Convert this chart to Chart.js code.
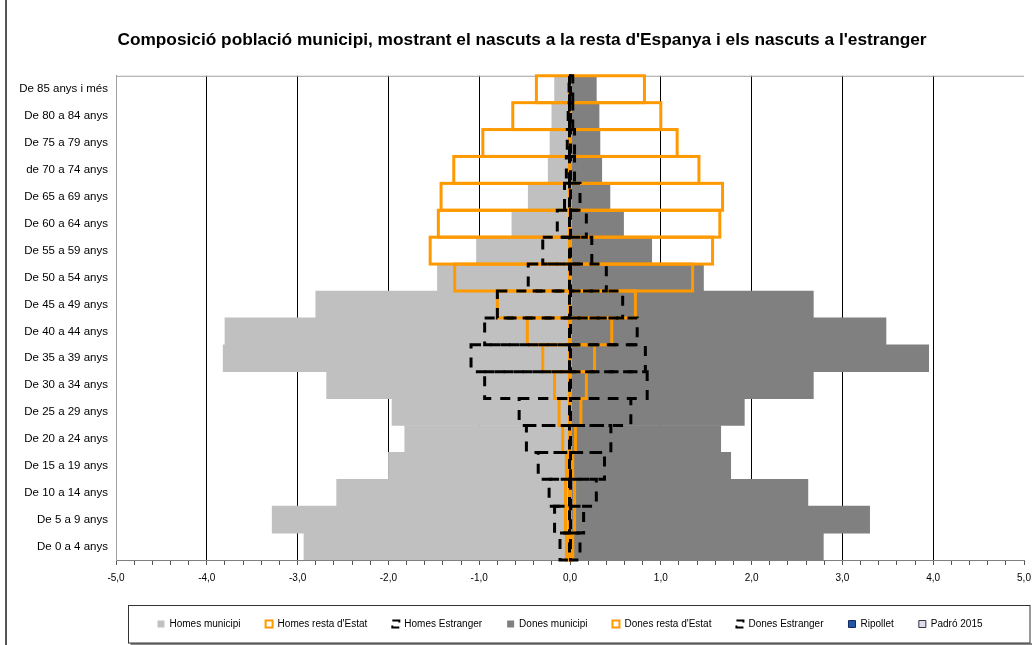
<!DOCTYPE html>
<html>
<head>
<meta charset="utf-8">
<script src="https://cdn.jsdelivr.net/npm/chart.js"></script>
<style>
  body { margin: 0; background: #fff; }
  #marc { position: absolute; left: 0; top: 0; width: 1032px; height: 645px; }
  #marc::before { content: ''; position: absolute; left: 5px; top: 0; bottom: 0; border-left: 2px solid #555; }
</style>
</head>
<body>
<div id="marc"><canvas id="grafic" width="1032" height="645"></canvas></div>
<script>
// franges d'edat, de dalt a baix com al gràfic
var edats = ['De 85 anys i més', 'De 80 a 84 anys', 'De 75 a 79 anys', 'de 70 a 74 anys',
  'De 65 a 69 anys', 'De 60 a 64 anys', 'De 55 a 59 anys', 'De 50 a 54 anys',
  'De 45 a 49 anys', 'De 40 a 44 anys', 'De 35 a 39 anys', 'De 30 a 34 anys',
  'De 25 a 29 anys', 'De 20 a 24 anys', 'De 15 a 19 anys', 'De 10 a 14 anys',
  'De 5 a 9 anys', 'De 0 a 4 anys'];

var homesMunicipi = [-0.17, -0.20, -0.22, -0.24, -0.46, -0.64, -1.03, -1.46, -2.80, -3.80, -3.82, -2.68, -1.96, -1.82, -2.00, -2.57, -3.28, -2.93];
var donesMunicipi = [0.29, 0.32, 0.33, 0.35, 0.44, 0.59, 0.90, 1.47, 2.68, 3.48, 3.95, 2.68, 1.92, 1.66, 1.77, 2.62, 3.30, 2.79];
var homesResta = [-0.37, -0.63, -0.96, -1.28, -1.42, -1.45, -1.54, -1.27, -0.80, -0.47, -0.30, -0.17, -0.12, -0.08, -0.04, -0.05, -0.05, -0.04];
var donesResta = [0.82, 1.00, 1.18, 1.42, 1.68, 1.65, 1.57, 1.35, 0.72, 0.46, 0.27, 0.18, 0.12, 0.06, 0.03, 0.05, 0.05, 0.03];
var homesEstranger = [-0.01, -0.02, -0.03, -0.04, -0.06, -0.14, -0.30, -0.46, -0.80, -0.94, -1.09, -0.94, -0.56, -0.48, -0.35, -0.23, -0.17, -0.11];
var donesEstranger = [0.03, 0.03, 0.05, 0.05, 0.11, 0.18, 0.24, 0.40, 0.58, 0.74, 0.83, 0.85, 0.67, 0.45, 0.38, 0.29, 0.15, 0.11];
var ripollet = edats.map(function () { return null; });
var padro2015 = edats.map(function () { return null; });

var taronja = '#ff9900';

Chart.defaults.font.family = "Arial, 'Liberation Sans', sans-serif";
Chart.defaults.color = '#000';

function esEnter(v) {
  return Math.abs(v - Math.round(v)) < 1e-6;
}

// les barres buides (resta d'Estat i estranger) es dibuixen amb vora centrada
var contorns = {
  id: 'contorns',
  afterDatasetsDraw: function (chart) {
    var ctx = chart.ctx;
    [1, 2].forEach(function (capa) {
      chart.data.datasets.forEach(function (ds, i) {
        if (ds.capa !== capa) return;
        var meta = chart.getDatasetMeta(i);
        if (meta.hidden) return;
        ctx.save();
        ctx.strokeStyle = ds.contorn;
        ctx.lineWidth = 3;
        ctx.setLineDash(ds.guions || []);
        meta.data.forEach(function (barra) {
          var p = barra.getProps(['x', 'y', 'base', 'height'], true);
          ctx.strokeRect(Math.min(p.x, p.base), p.y - p.height / 2, Math.abs(p.x - p.base), p.height);
        });
        ctx.restore();
      });
    });
  }
};

var marcs = {
  id: 'marcs',
  beforeDatasetsDraw: function (chart) {
    var a = chart.chartArea, ctx = chart.ctx;
    ctx.save();
    ctx.strokeStyle = '#a0a0a0';
    ctx.lineWidth = 1;
    ctx.beginPath();
    ctx.moveTo(a.left, a.top + 0.5);
    ctx.lineTo(a.right, a.top + 0.5);
    ctx.stroke();
    ctx.restore();
  },
  afterDraw: function (chart) {
    var l = chart.legend, ctx = chart.ctx;
    var x0 = Math.round(l.left + 12) + 0.5, y0 = Math.round(l.top + 11) + 0.5;
    var w = 1030 - x0, h = 643 - y0;
    ctx.save();
    ctx.fillStyle = '#888';
    ctx.fillRect(x0 + 2, y0 + h, w, 2);
    ctx.strokeStyle = '#333';
    ctx.lineWidth = 1;
    ctx.strokeRect(x0, y0, w, h);
    ctx.restore();
  }
};

new Chart(document.getElementById('grafic'), {
  type: 'bar',
  data: {
    labels: edats,
    datasets: [
      { label: 'Homes municipi', data: homesMunicipi, backgroundColor: '#c0c0c0', borderWidth: 0, order: 3 },
      { label: "Homes resta d'Estat", data: homesResta, backgroundColor: 'rgba(0,0,0,0)', borderWidth: 0, contorn: taronja, capa: 1, order: 2 },
      { label: 'Homes Estranger', data: homesEstranger, backgroundColor: 'rgba(0,0,0,0)', borderWidth: 0, contorn: '#000', guions: [10, 9], capa: 2, order: 1 },
      { label: 'Dones municipi', data: donesMunicipi, backgroundColor: '#808080', borderWidth: 0, order: 3 },
      { label: "Dones resta d'Estat", data: donesResta, backgroundColor: 'rgba(0,0,0,0)', borderWidth: 0, contorn: taronja, capa: 1, order: 2 },
      { label: 'Dones Estranger', data: donesEstranger, backgroundColor: 'rgba(0,0,0,0)', borderWidth: 0, contorn: '#000', guions: [10, 9], capa: 2, order: 1 },
      { label: 'Ripollet', data: ripollet, backgroundColor: '#2456a8', borderWidth: 0, vora: '#102a5c', order: 4 },
      { label: 'Padró 2015', data: padro2015, backgroundColor: '#dcdcf0', borderWidth: 0, vora: '#333', order: 4 }
    ]
  },
  options: {
    indexAxis: 'y',
    responsive: false,
    animation: false,
    devicePixelRatio: 1,
    barPercentage: 1,
    categoryPercentage: 1,
    layout: { padding: { top: 0, left: 12, right: 0, bottom: 6 } },
    plugins: {
      title: {
        display: true,
        text: "Composició població municipi, mostrant el nascuts a la resta d'Espanya i els nascuts a l'estranger",
        font: { size: 17.3, weight: 'bold' },
        color: '#000',
        padding: { top: 30, bottom: 25 }
      },
      legend: {
        position: 'bottom',
        fullSize: false,
        labels: {
          boxWidth: 7,
          boxHeight: 7,
          padding: 25,
          font: { size: 10 },
          color: '#000',
          sort: function (a, b) { return a.datasetIndex - b.datasetIndex; },
          generateLabels: function (chart) {
            var items = Chart.defaults.plugins.legend.labels.generateLabels(chart);
            items.forEach(function (it) {
              var ds = chart.data.datasets[it.datasetIndex];
              if (ds.contorn) {
                it.fillStyle = '#fff';
                it.strokeStyle = ds.contorn;
                it.lineWidth = 2;
                it.lineDash = ds.guions ? [9, 5] : [];
              } else if (ds.vora) {
                it.strokeStyle = ds.vora;
                it.lineWidth = 1;
              } else {
                it.lineWidth = 0;
              }
            });
            return items;
          }
        }
      },
      tooltip: { enabled: false }
    },
    scales: {
      x: {
        min: -5,
        max: 5,
        afterFit: function (scale) {
          scale.height = 34;
          scale.paddingLeft = 0;
          scale.paddingRight = 8;
        },
        ticks: {
          stepSize: 0.2,
          autoSkip: false,
          maxRotation: 0,
          padding: 7,
          font: { size: 10 },
          color: '#000',
          callback: function (v) {
            return esEnter(v) ? Math.round(v).toFixed(1).replace('.', ',') : '';
          }
        },
        grid: {
          color: function (c) {
            var v = c.tick ? c.tick.value : 0;
            return esEnter(v) && Math.abs(v) < 4.5 ? '#000' : 'rgba(0,0,0,0)';
          },
          lineWidth: 1,
          drawTicks: true,
          tickLength: 5,
          tickColor: '#555'
        },
        border: { display: true, color: '#808080' }
      },
      y: {
        stacked: true,
        afterFit: function (scale) { scale.width = 104; },
        ticks: { font: { size: 11.5 }, color: '#000', padding: 8 },
        grid: { display: false, drawTicks: false },
        border: { display: true, color: '#a0a0a0' }
      }
    }
  },
  plugins: [marcs, contorns]
});
</script>
</body>
</html>
